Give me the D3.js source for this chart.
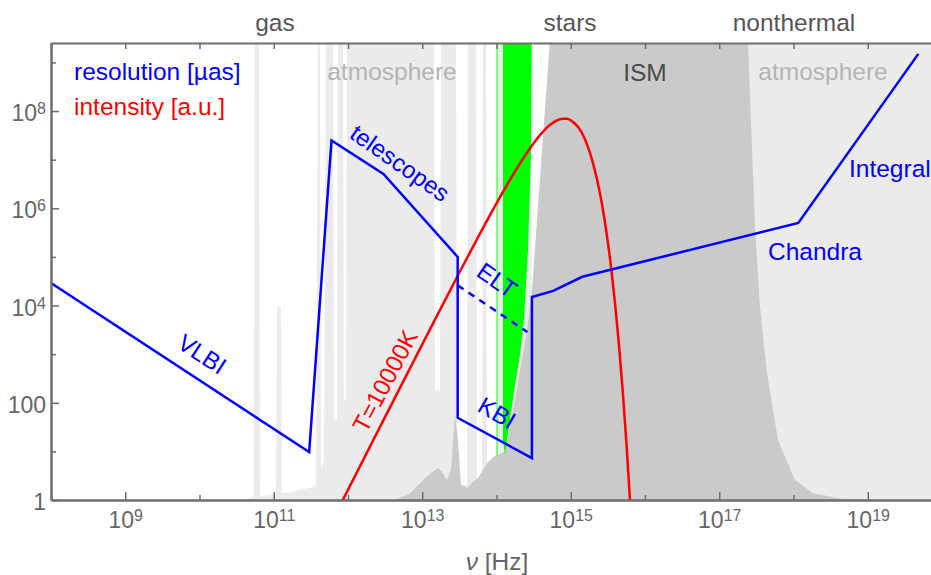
<!DOCTYPE html>
<html>
<head>
<meta charset="utf-8">
<script src="https://cdn.jsdelivr.net/npm/d3@7"></script>
<style>
  body { margin: 0; background: #fff; }
  svg { display: block; font-family: "Liberation Sans", Arial, sans-serif; }
</style>
</head>
<body>
<div id="chart"></div>
<script>
// resolution of instruments [µas] vs frequency [Hz]
const resNu  = [1e8, 3e11, 6e11, 3e12, 3e13, 3e13, 3e14, 3e14, 5.8e14, 1.43e15, 1.16e18, 4.8e19];
const resVal = [2.9e4, 9.7, 2.5e7, 5.1e6, 1e5, 49, 7.3, 1.5e4, 2e4, 3.9e4, 5e5, 1.5e9];

// ELT (dashed)
const eltNu  = [3e13, 2.6e14];
const eltVal = [2.6e4, 2.85e3];

// blackbody T=10000K (log10 nu, log10 intensity)
const bbLogNu = [11.9, 12.5, 13, 13.5, 13.75, 14, 14.25, 14.4, 14.5, 14.6, 14.7, 14.8, 14.9, 14.95,
                 15.0, 15.05, 15.1, 15.2, 15.3, 15.4, 15.45, 15.5, 15.55, 15.6, 15.65, 15.7, 15.75, 15.8];
const bbLogI  = [-0.09, 1.71, 3.2, 4.68, 5.4, 6.1, 6.76, 7.12, 7.34, 7.53, 7.69, 7.8, 7.84, 7.84,
                 7.81, 7.75, 7.67, 7.39, 6.93, 6.26, 5.82, 5.3, 4.7, 3.99, 3.18, 2.24, 1.17, -0.06];

// atmosphere opacity profile (log10 nu, log10 height) - light gray
const atmosphere = [
  [10.55,0],[10.68,0.04],[10.73,0.06],[10.745,10],[10.80,10],[10.815,0.08],[10.92,0.10],[11.03,0.12],
  [11.044,3.97],[11.098,3.97],[11.11,0.14],[11.22,0.16],[11.35,0.21],[11.49,0.25],[11.57,0.31],
  [11.596,10],[11.623,10],[11.636,0.62],[11.677,0.82],[11.704,10],[11.798,10],[11.811,1.65],[11.852,1.65],
  [11.865,10],[11.933,10],[11.946,2.06],[11.973,2.06],[11.987,10],[13.158,10],[13.172,2.26],[13.239,2.26],
  [13.253,10],[13.455,10],[13.468,0.31],[13.603,0.31],[13.616,10],[13.724,10],[13.738,0.41],[13.805,0.41],
  [13.818,10],[13.859,10],[13.872,0.51],[13.993,0.51],[14.007,0.51],[14.02,10],[14.465,10],[14.478,0.82],
  [14.74,0.82],[14.75,10],[20,10]
];

// interstellar medium absorption (log10 nu, log10 height) - dark gray
const ism = [
  [12.63,0],[12.835,0.14],[13.037,0.45],[13.145,0.58],[13.212,0.66],[13.266,0.58],[13.333,0.41],[13.387,0.62],
  [13.441,1.75],[13.481,1.23],[13.522,0.31],[13.603,0.25],[13.67,0.35],[13.751,0.45],[13.818,0.62],[13.886,0.78],
  [13.953,0.88],[14.02,0.93],[14.114,0.99],[14.249,2.06],[14.411,3.5],[14.478,4.32],[14.717,9.4],[14.73,10],
  [17.375,10],[17.387,9.4],[17.482,5.61],[17.549,3.97],[17.643,2.61],[17.791,1.23],[18.02,0.41],[18.263,0.14],
  [18.667,0.02],[19.0,0.005],[19.2,0]
];

// optical window (log10 nu, log10 height) - green
const optical = [
  [14.087,10],[14.087,1.23],[14.114,0.93],[14.182,1.65],[14.249,2.37],[14.316,2.98],[14.37,3.7],
  [14.424,5.14],[14.465,7.2],[14.478,10]
];
const opticalLine = [[14.007, 0.9], [14.007, 10]];

const width = 931, height = 575;
const mLeft = 51, mTop = 43, mBottom = 500, mRight = 942;

const x = d3.scaleLog().domain([1e8, 1e20]).range([mLeft, mRight]);
const y = d3.scaleLog().domain([1, Math.pow(10, 9.4)]).range([mBottom, mTop]);
const p = v => Math.pow(10, v);

const svg = d3.select("#chart").append("svg")
    .attr("width", width)
    .attr("height", height);

svg.append("clipPath").attr("id", "plot")
  .append("rect")
    .attr("x", mLeft).attr("y", mTop)
    .attr("width", mRight - mLeft).attr("height", mBottom - mTop);

const g = svg.append("g").attr("clip-path", "url(#plot)");

const area = d3.area()
    .x(d => x(p(d[0])))
    .y0(y(1))
    .y1(d => y(p(d[1])));

g.append("path").datum(atmosphere).attr("fill", "#ebebeb").attr("d", area);
g.append("path").datum(ism).attr("fill", "#cacaca").attr("d", area);

const poly = d3.line()
    .x(d => x(p(d[0])))
    .y(d => y(p(d[1])))
    .curve(d3.curveLinearClosed);
g.append("path").datum(optical).attr("fill", "#00ff00").attr("d", poly);

g.append("path").datum(opticalLine)
    .attr("stroke", "#00ff00").attr("stroke-width", 1)
    .attr("d", d3.line().x(d => x(p(d[0]))).y(d => y(p(d[1]))));

// region labels inside the plot
g.append("text").attr("x", 392).attr("y", 80).attr("text-anchor", "middle")
    .attr("font-size", 24.5).attr("fill", "#b4b4b4").text("atmosphere");
g.append("text").attr("x", 823).attr("y", 80).attr("text-anchor", "middle")
    .attr("font-size", 24.5).attr("fill", "#b4b4b4").text("atmosphere");
g.append("text").attr("x", 645).attr("y", 81).attr("text-anchor", "middle")
    .attr("font-size", 24.5).attr("fill", "#4a4a4a").text("ISM");

// curves
g.append("path")
    .datum(bbLogNu.map((v, i) => [p(v), p(bbLogI[i])]))
    .attr("fill", "none").attr("stroke", "#ff0000").attr("stroke-width", 2.5)
    .attr("d", d3.line().x(d => x(d[0])).y(d => y(d[1])).curve(d3.curveMonotoneX));

g.append("path")
    .datum(eltNu.map((v, i) => [v, eltVal[i]]))
    .attr("fill", "none").attr("stroke", "#0000ff").attr("stroke-width", 2.5)
    .attr("stroke-dasharray", "7,6")
    .attr("d", d3.line().x(d => x(d[0])).y(d => y(d[1])));

g.append("path")
    .datum(resNu.map((v, i) => [v, resVal[i]]))
    .attr("fill", "none").attr("stroke", "#0000ff").attr("stroke-width", 2.5)
    .attr("d", d3.line().x(d => x(d[0])).y(d => y(d[1])));

// rotated annotations, anchored in data space
function note(nu, val, angle, txt, color) {
  svg.append("text")
      .attr("transform", `translate(${x(nu)},${y(val)}) rotate(${angle})`)
      .attr("text-anchor", "middle")
      .attr("dy", "0.35em")
      .attr("font-size", 24)
      .attr("fill", color)
      .text(txt);
}
note(p(10.034), p(3.0), 33, "VLBI", "#0000ff");
note(p(12.70), p(6.93), 35, "telescopes", "#0000ff");
note(p(14.007), p(4.52), 35, "ELT", "#0000ff");
note(p(14.007), p(1.79), 30, "KBI", "#0000ff");
note(p(12.498), p(2.45), -62, "T=10000K", "#ff0000");

svg.append("text").attr("x", 768).attr("y", 260).attr("font-size", 24.5)
    .attr("fill", "#0000ff").text("Chandra");
svg.append("text").attr("x", 849).attr("y", 177).attr("font-size", 24.5)
    .attr("fill", "#0000ff").text("Integral");

// legend
svg.append("text").attr("x", 74).attr("y", 80).attr("font-size", 24.5)
    .attr("fill", "#0000ff").text("resolution [µas]");
svg.append("text").attr("x", 74).attr("y", 115).attr("font-size", 24.5)
    .attr("fill", "#ff0000").text("intensity [a.u.]");

// axes
const axisColor = "#6e6e6e";
const oddX  = d3.range(9, 20, 2).map(p);
const evenX = d3.range(8, 21, 2).map(p);
const majY  = d3.range(0, 9, 2).map(p);
const minY  = d3.range(1, 10, 2).map(p);

function supLabel(sel) {
  sel.each(function(d) {
    const e = Math.round(Math.log10(d));
    const t = d3.select(this).text(null);
    if (e === 0) { t.text("1"); return; }
    if (e === 2) { t.text("100"); return; }
    t.append("tspan").text("10");
    t.append("tspan").attr("dy", -7).attr("font-size", 16).text(e);
  });
}

function styleAxis(a) {
  a.attr("color", axisColor).attr("font-family", null).attr("font-size", 23);
  a.select(".domain").attr("stroke-width", 2);
  a.selectAll(".tick line").attr("stroke-width", 1.5);
  a.selectAll(".tick text").attr("fill", "#666");
}

const xMinor = svg.append("g").attr("transform", `translate(0,${mBottom})`)
    .call(d3.axisBottom(x).tickValues(evenX).tickSize(-5).tickSizeOuter(0).tickFormat(""));
styleAxis(xMinor);
const xMajor = svg.append("g").attr("transform", `translate(0,${mBottom})`)
    .call(d3.axisBottom(x).tickValues(oddX).tickSize(-8).tickSizeOuter(0).tickPadding(12));
styleAxis(xMajor);
xMajor.selectAll(".tick text").call(supLabel);

const xTop = svg.append("g").attr("transform", `translate(0,${mTop})`)
    .call(d3.axisTop(x).tickValues(oddX.concat(evenX)).tickSize(-6).tickSizeOuter(0).tickFormat(""));
styleAxis(xTop);

const yMinor = svg.append("g").attr("transform", `translate(${mLeft},0)`)
    .call(d3.axisLeft(y).tickValues(minY).tickSize(-5).tickSizeOuter(0).tickFormat(""));
styleAxis(yMinor);
const yMajor = svg.append("g").attr("transform", `translate(${mLeft},0)`)
    .call(d3.axisLeft(y).tickValues(majY).tickSize(-8).tickSizeOuter(0).tickPadding(5));
styleAxis(yMajor);
yMajor.selectAll(".tick text").attr("dy", "0.42em").call(supLabel);

// axis title
const xt = svg.append("text").attr("x", 497).attr("y", 570).attr("text-anchor", "middle")
    .attr("font-size", 24.5).attr("fill", "#666");
xt.append("tspan").attr("font-style", "italic").text("ν");
xt.append("tspan").text(" [Hz]");

// band titles above the frame
[["gas", 275], ["stars", 570], ["nonthermal", 794]].forEach(([t, cx]) => {
  svg.append("text").attr("x", cx).attr("y", 31).attr("text-anchor", "middle")
      .attr("font-size", 24.5).attr("fill", "#555").text(t);
});
</script>
</body>
</html>
